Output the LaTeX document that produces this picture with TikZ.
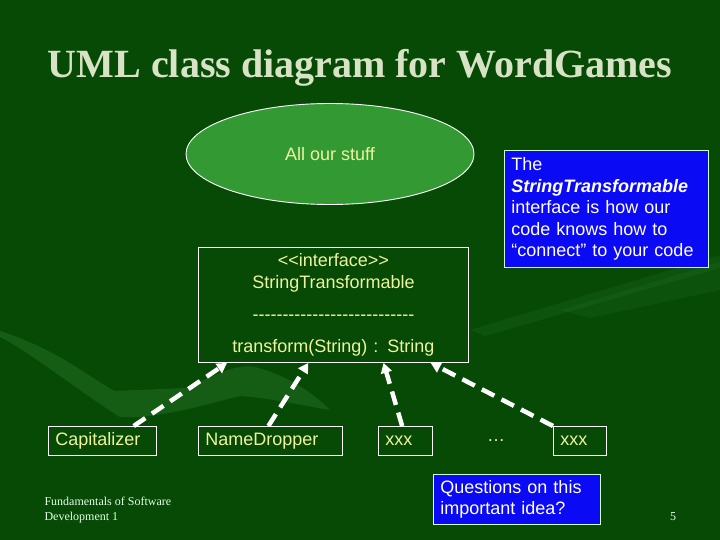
\documentclass[tikz,border=0pt]{standalone}
\usepackage{fontspec}
\setmainfont{Liberation Serif}
\setsansfont{Liberation Sans}
\usetikzlibrary{arrows.meta, calc, shapes.geometric}
\definecolor{cbg}{HTML}{064A06}
\definecolor{cswoosh}{HTML}{3A8A3A}
\definecolor{cblob}{HTML}{339933}
\definecolor{cyellow}{HTML}{EEF3A0}
\definecolor{cblue}{HTML}{0A0AF5}
\definecolor{ctitle}{HTML}{D8E3C6}
\newcommand{\dashline}{\foreach \k in {1,...,27}{-}}
\tikzset{
  every picture/.style={font=\sffamily\fontsize{18}{21.6}\selectfont},
  classbox/.style={draw=white, line width=0.9pt, text=cyellow, inner xsep=7pt, inner ysep=2pt, align=left, anchor=north west},
  notebox/.style={draw=white!80!green, fill=cblue, text=white, line width=0.9pt, inner xsep=7pt, inner ysep=2pt, align=left, anchor=north west},
  realize/.style={-{Triangle[length=10pt, width=11pt]}, draw=white, line width=4.5pt, dash pattern=on 14pt off 8pt},
  footer/.style={font=\rmfamily\fontsize{12}{14.5}\selectfont, text=white!90!green, align=left},
  title/.style={font=\rmfamily\bfseries\fontsize{40}{48}\selectfont, text=ctitle},
}

\begin{document}
\begin{tikzpicture}[x=1pt, y=-1pt]
  \fill[cbg] (0,0) rectangle (720,540);
  \fill[cswoosh, opacity=0.3] (0,331) .. controls (60,350) and (95,382) .. (115,391) -- (185,388)
    .. controls (210,378) and (235,363) .. (255,367) .. controls (290,376) and (315,395) .. (330,410)
    .. controls (300,405) and (270,398) .. (240,396) .. controls (215,402) and (180,413) .. (140,417)
    -- (120,417) .. controls (80,392) and (30,352) .. (0,337) -- cycle;
  \fill[cswoosh, opacity=0.15] (470,330) -- (720,255) -- (720,268) -- (485,336) -- cycle;
  \fill[cswoosh, opacity=0.12] (560,310) -- (720,262) -- (720,290) -- (590,318) -- cycle;

  \node[title] (head) at (360,68) {UML class diagram for WordGames};

  \node[ellipse, draw=white, line width=0.9pt, fill=cblob, text=cyellow, minimum width=288, minimum height=101] (stuff) at (330,154) {All our stuff};

  \node[classbox, align=center, text width=256, minimum height=115] (iface) at (198,247)
    {<{}<interface>{}>\\StringTransformable\\[11pt]\dashline\\[10.5pt]transform(String) : String};

  \node[notebox, text width=190, minimum height=117] (note) at (504,150)
    {The\\\textbf{\textit{StringTransformable}}\\interface is how our\\code knows how to\\“connect” to your code};

  \node[classbox, text width=94, minimum height=29] (cap) at (48,426) {Capitalizer};
  \node[classbox, text width=130, minimum height=29] (drop) at (198,426) {NameDropper};
  \node[classbox, text width=40, minimum height=29] (xxxa) at (378,426) {xxx};
  \node[text=cyellow] (more) at (496,441) {…};
  \node[classbox, text width=39, minimum height=29] (xxxb) at (553,426) {xxx};

  \draw[realize] ($(cap.north west)!0.787!(cap.north east)$) -- ($(iface.south west)!0.107!(iface.south east)$);
  \draw[realize] ($(drop.north west)!0.486!(drop.north east)$) -- ($(iface.south west)!0.407!(iface.south east)$);
  \draw[realize] ($(xxxa.north west)!0.44!(xxxa.north east)$) -- ($(iface.south west)!0.685!(iface.south east)$);
  \draw[realize] (xxxb.north west) -- ($(iface.south west)!0.859!(iface.south east)$);

  \node[notebox, text width=153, minimum height=50] (quest) at (433,474) {Questions on this\\important idea?};

  \node[footer, anchor=west] (foot) at (41,510) {Fundamentals of Software\\Development 1};
  \node[footer] (pgnum) at (673,517) {5};
\end{tikzpicture}
\end{document}
